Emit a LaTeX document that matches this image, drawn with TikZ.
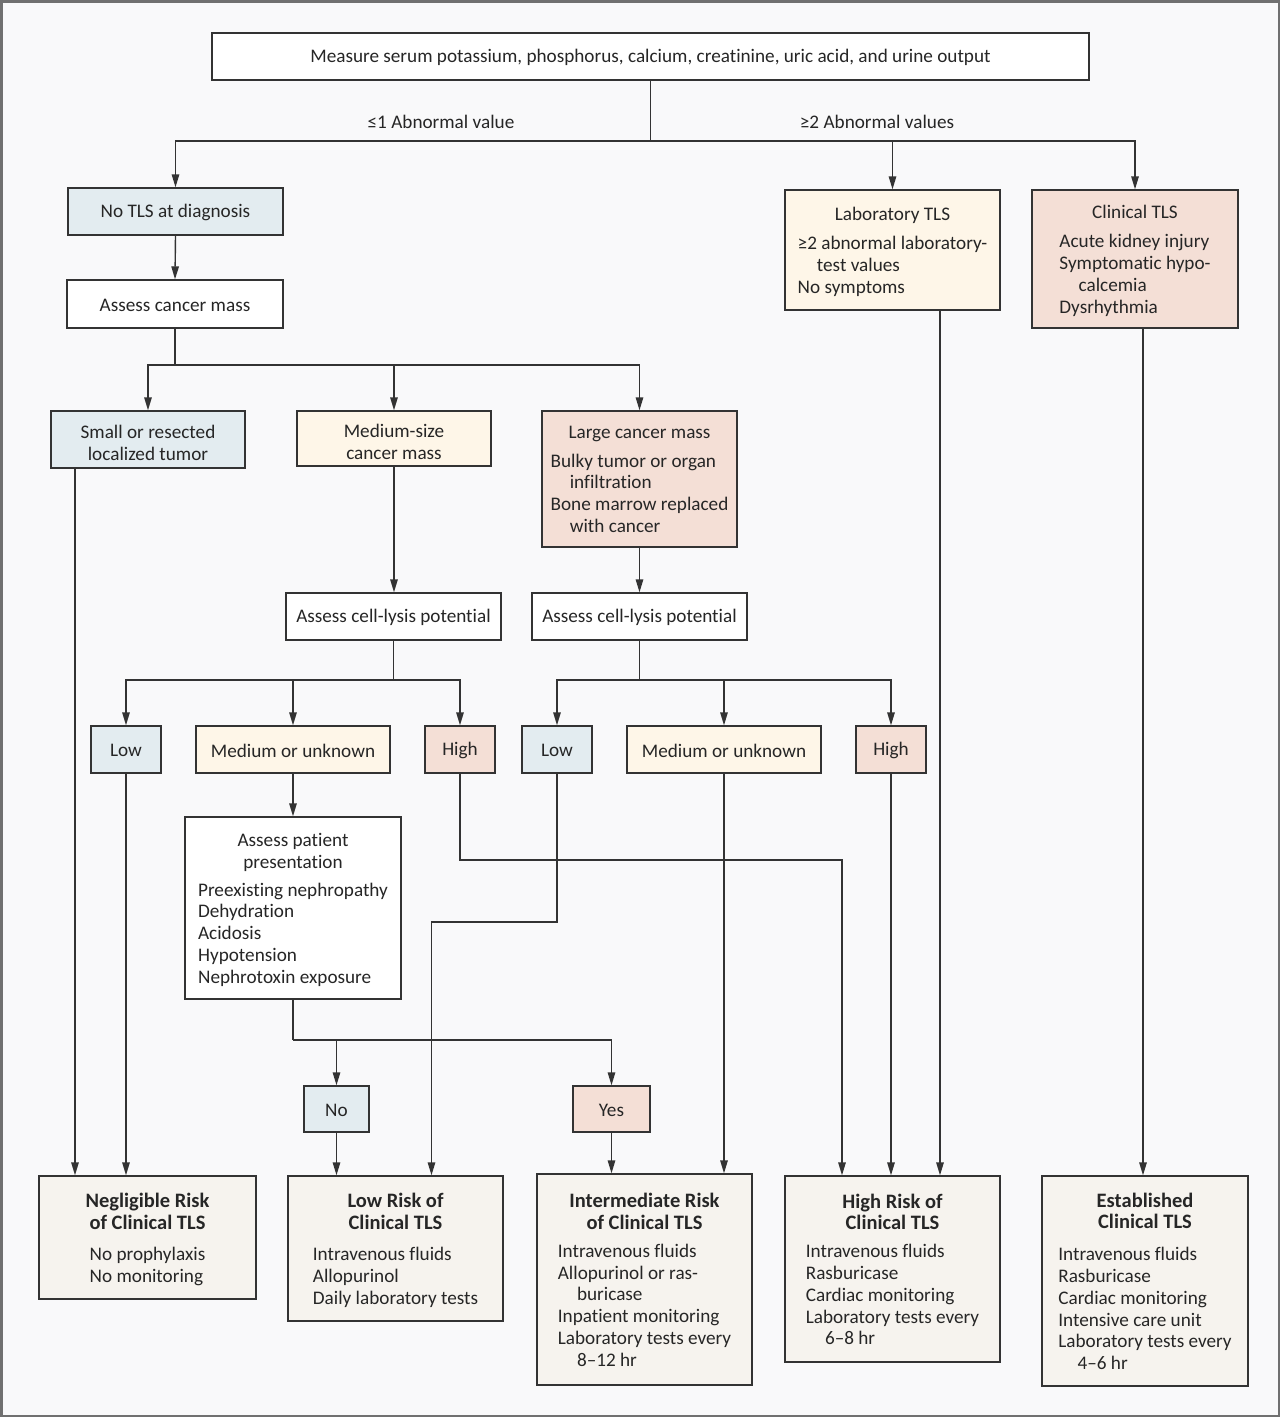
\documentclass[tikz,border=0pt]{standalone}
\usepackage{fontspec}
\setmainfont{Carlito}[Ligatures=NoCommon]
\usetikzlibrary{arrows.meta,calc}
\definecolor{bg}{HTML}{F9F9FA}
\definecolor{framec}{HTML}{707070}
\definecolor{linec}{HTML}{333333}
\definecolor{bluef}{HTML}{E3ECF0}
\definecolor{creamf}{HTML}{FEF6E8}
\definecolor{pinkf}{HTML}{F4DFD6}
\definecolor{greyf}{HTML}{F6F3EE}
\newcommand{\bodyfont}{\fontsize{19.2}{21.8}\selectfont}
\newcommand{\ttl}[1]{{\fontsize{20.5}{22}\selectfont\bfseries #1}}
\newcommand{\ind}{\hspace*{1em}}
\begin{document}
\begin{tikzpicture}[x=1pt,y=-1pt,
  box/.style={draw=linec, line width=1.4pt, inner sep=0pt},
  wbox/.style={box, fill=white},
  bbox/.style={box, fill=bluef},
  cbox/.style={box, fill=creamf},
  pbox/.style={box, fill=pinkf},
  gbox/.style={box, fill=greyf},
  lbl/.style={font=\bodyfont, text=black!85, inner sep=0pt, align=center},
  mtext/.style={label={[lbl, yshift=-3.5pt]center:{#1}}},
  stext/.style={label={[lbl, yshift=-1pt]center:{#1}}},
  conn/.style={draw=linec, line width=1.4pt},
  arr/.style={conn, -{Triangle[length=13pt,width=7.5pt]}}
]
\useasboundingbox (0,0) rectangle (1280,1417);
\fill[bg] (0,0) rectangle (1280,1417);
\draw[framec, line width=2.5pt] (1.25,1.25) rectangle (1278.75,1415.75);

% top
\node[wbox, minimum width=877pt, minimum height=47pt,
  stext={Measure serum potassium, phosphorus, calcium, creatinine, uric acid, and urine output}] (top) at (650.5,56.5) {};
\node[lbl] (lab1) at (441,122) {≤1 Abnormal value};
\node[lbl] (lab2) at (877,122) {≥2 Abnormal values};

\node[bbox, minimum width=215pt, minimum height=47pt, stext={No TLS at diagnosis}] (notls) at (175.5,211.5) {};
\node[cbox, minimum width=215pt, minimum height=120pt,
  mtext={Laboratory TLS\\[7pt]\begin{tabular}[t]{@{}l@{}}≥2 abnormal laboratory-\\\ind test values\\No symptoms\end{tabular}}] (lab) at (892.5,250) {};
\node[pbox, minimum width=206pt, minimum height=138pt,
  mtext={Clinical TLS\\[7pt]\begin{tabular}[t]{@{}l@{}}Acute kidney injury\\Symptomatic hypo-\\\ind calcemia\\Dysrhythmia\end{tabular}}] (clin) at (1135,259) {};

\node[wbox, minimum width=216pt, minimum height=48pt, stext={Assess cancer mass}] (mass) at (175,304) {};

\node[bbox, minimum width=194pt, minimum height=57pt, mtext={Small or resected\\localized tumor}] (small) at (148,439.5) {};
\node[cbox, minimum width=194pt, minimum height=55pt, mtext={Medium-size\\cancer mass}] (medium) at (394,438.5) {};
\node[pbox, minimum width=195pt, minimum height=136pt,
  mtext={Large cancer mass\\[7pt]\begin{tabular}[t]{@{}l@{}}Bulky tumor or organ\\\ind infiltration\\Bone marrow replaced\\\ind with cancer\end{tabular}}] (large) at (639.5,479) {};

\node[wbox, minimum width=215pt, minimum height=47pt, stext={Assess cell-lysis potential}] (lysisL) at (393.5,616.5) {};
\node[wbox, minimum width=215pt, minimum height=47pt, stext={Assess cell-lysis potential}] (lysisR) at (639.5,616.5) {};

\node[bbox, minimum width=70pt, minimum height=47pt, stext={Low}] (lowL) at (126,749.5) {};
\node[cbox, minimum width=194pt, minimum height=47pt, stext={Medium or unknown}] (medL) at (293,749.5) {};
\node[pbox, minimum width=70pt, minimum height=47pt, stext={High}] (highL) at (460,749.5) {};
\node[bbox, minimum width=70pt, minimum height=47pt, stext={Low}] (lowR) at (557,749.5) {};
\node[cbox, minimum width=194pt, minimum height=47pt, stext={Medium or unknown}] (medR) at (724,749.5) {};
\node[pbox, minimum width=70pt, minimum height=47pt, stext={High}] (highR) at (891,749.5) {};

\node[wbox, minimum width=216pt, minimum height=182pt,
  mtext={Assess patient\\presentation\\[6pt]\begin{tabular}[t]{@{}l@{}}Preexisting nephropathy\\Dehydration\\Acidosis\\Hypotension\\Nephrotoxin exposure\end{tabular}}] (patient) at (293,908) {};

\node[bbox, minimum width=65pt, minimum height=46pt, stext={No}] (no) at (336.5,1109) {};
\node[pbox, minimum width=77pt, minimum height=46pt, stext={Yes}] (yes) at (611.5,1109) {};

\node[gbox, minimum width=217pt, minimum height=123pt,
  mtext={\ttl{Negligible Risk}\\\ttl{of Clinical TLS}\\[10pt]\begin{tabular}[t]{@{}l@{}}No prophylaxis\\No monitoring\end{tabular}}] (negl) at (147.5,1237.5) {};
\node[gbox, minimum width=215pt, minimum height=145pt,
  mtext={\ttl{Low Risk of}\\\ttl{Clinical TLS}\\[10pt]\begin{tabular}[t]{@{}l@{}}Intravenous fluids\\Allopurinol\\Daily laboratory tests\end{tabular}}] (lowrisk) at (395.5,1248.5) {};
\node[gbox, minimum width=215pt, minimum height=211pt,
  mtext={\ttl{Intermediate Risk}\\\ttl{of Clinical TLS}\\[6pt]\begin{tabular}[t]{@{}l@{}}Intravenous fluids\\Allopurinol or ras-\\\ind buricase\\Inpatient monitoring\\Laboratory tests every\\\ind 8–12 hr\end{tabular}}] (inter) at (644.5,1279.5) {};
\node[gbox, minimum width=215pt, minimum height=186pt,
  mtext={\ttl{High Risk of}\\\ttl{Clinical TLS}\\[6pt]\begin{tabular}[t]{@{}l@{}}Intravenous fluids\\Rasburicase\\Cardiac monitoring\\Laboratory tests every\\\ind 6–8 hr\end{tabular}}] (high) at (892.5,1269) {};
\node[gbox, minimum width=206pt, minimum height=210pt,
  mtext={\ttl{Established}\\\ttl{Clinical TLS}\\[10pt]\begin{tabular}[t]{@{}l@{}}Intravenous fluids\\Rasburicase\\Cardiac monitoring\\Intensive care unit\\Laboratory tests every\\\ind 4–6 hr\end{tabular}}] (est) at (1145,1281) {};

% connectors
\coordinate (j1) at (650.5,141);
\draw[conn] (top.south) -- (j1);
\draw[arr] (j1) -| (notls.north);
\draw[arr] (j1) -| (lab.north);
\draw[arr] (j1) -| (clin.north);
\draw[arr] (notls.south) -- (mass.north);

\coordinate (j2) at (175,365);
\draw[conn] (mass.south) -- (j2);
\draw[arr] (j2) -| (small.north);
\draw[arr] (j2) -| (medium.north);
\draw[arr] (j2) -| (large.north);
\draw[arr] (medium.south) -- (medium.south |- lysisL.north);
\draw[arr] (large.south) -- (lysisR.north);

\coordinate (j3) at (393.5,680);
\draw[conn] (lysisL.south) -- (j3);
\draw[arr] (j3) -| (lowL.north);
\draw[arr] (j3) -| (medL.north);
\draw[arr] (j3) -| (highL.north);
\coordinate (j4) at (639.5,680);
\draw[conn] (lysisR.south) -- (j4);
\draw[arr] (j4) -| (lowR.north);
\draw[arr] (j4) -| (medR.north);
\draw[arr] (j4) -| (highR.north);

\draw[arr] (medL.south) -- (patient.north);
\coordinate (j5) at (293,1040);
\draw[conn] (patient.south) -- (j5);
\draw[arr] (j5) -| (no.north);
\draw[arr] (j5) -| (yes.north);

% to bottom boxes
\draw[arr] ([xshift=-73pt]small.south) -- ([xshift=-73pt]small.south |- negl.north);
\draw[arr] (lowL.south) -- (lowL.south |- negl.north);
\draw[arr] (no.south) -- (no.south |- lowrisk.north);
\coordinate (k1) at (431.5,922);
\draw[arr] (lowR.south) |- (k1) -- (k1 |- lowrisk.north);
\draw[arr] (yes.south) -- (yes.south |- inter.north);
\draw[arr] (medR.south) -- (medR.south |- inter.north);
\coordinate (k2) at (842,860);
\draw[arr] (highL.south) |- (k2) -- (k2 |- high.north);
\draw[arr] (highR.south) -- (highR.south |- high.north);
\draw[arr] ([xshift=47.5pt]lab.south) -- ([xshift=47.5pt]lab.south |- high.north);
\draw[arr] ([xshift=8pt]clin.south) -- ([xshift=8pt]clin.south |- est.north);
\end{tikzpicture}
\end{document}
